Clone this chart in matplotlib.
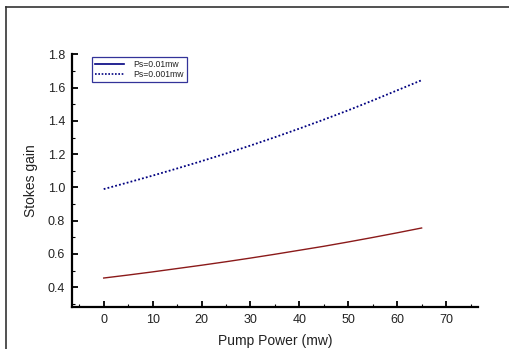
import numpy as np
import matplotlib
matplotlib.use("Agg")
import matplotlib.pyplot as plt
from matplotlib.lines import Line2D
from matplotlib.ticker import MultipleLocator

plt.rcParams['font.family'] = ['Liberation Sans', 'DejaVu Sans']

# pump power (mw)
pump_power = [0, 5, 10, 15, 20, 25, 30, 35, 40, 45, 50, 55, 60, 65]
# stokes gain, Ps=0.01mw (lower curve) and Ps=0.001mw (upper curve)
gain_ps_001 = [0.455, 0.473, 0.492, 0.512, 0.532, 0.553, 0.575,
               0.598, 0.622, 0.646, 0.672, 0.699, 0.727, 0.756]
gain_ps_0001 = [0.99, 1.030, 1.071, 1.114, 1.158, 1.204, 1.252,
                1.302, 1.354, 1.408, 1.464, 1.523, 1.584, 1.645]

x_ticks = [0, 10, 20, 30, 40, 50, 60, 70]
y_ticks = [0.4, 0.6, 0.8, 1.0, 1.2, 1.4, 1.6, 1.8]

fig = plt.figure(figsize=(5.10, 3.49), dpi=100)
ax = fig.add_axes([0.141, 0.120, 0.796, 0.724])

# lower curve drawn dark red, upper curve dotted navy
ax.plot(pump_power, gain_ps_001, color='#8b1a1a', linewidth=1.0)
ax.plot(pump_power, gain_ps_0001, color='#000080', linewidth=1.3, linestyle=(0, (1, 1.2)))

ax.set_xlim(-6.5, 76.5)
ax.set_ylim(0.28, 1.8)
ax.set_xticks(x_ticks)
ax.set_yticks(y_ticks)
ax.set_yticklabels([f"{v:.1f}" for v in y_ticks])
ax.xaxis.set_minor_locator(MultipleLocator(5))
ax.yaxis.set_minor_locator(MultipleLocator(0.1))
ax.tick_params(which='major', direction='in', length=4, width=1.3, labelsize=9,
               labelcolor='#222222', pad=5)
ax.tick_params(which='minor', direction='in', length=2.5, width=0.8)

for side in ['top', 'right']:
    ax.spines[side].set_visible(False)
for side in ['left', 'bottom']:
    ax.spines[side].set_linewidth(1.6)

ax.set_xlabel('Pump Power (mw)', fontsize=10, color='#222222', labelpad=6)
ax.set_ylabel('Stokes gain', fontsize=10, color='#222222', labelpad=7)

# legend with proxy lines in navy
handles = [Line2D([], [], color='#000080', linewidth=1.2),
           Line2D([], [], color='#000080', linewidth=1.2, linestyle=(0, (1, 1)))]
leg = ax.legend(handles, ['Ps=0.01mw', 'Ps=0.001mw'], loc='upper left',
                bbox_to_anchor=(0.049, 0.99), borderaxespad=0, fontsize=6.2,
                frameon=True, fancybox=False, handlelength=3.4, handletextpad=1.1,
                borderpad=0.35, labelspacing=0.15)
leg.get_frame().set_edgecolor('#000080')
leg.get_frame().set_linewidth(0.9)
for t in leg.get_texts():
    t.set_color('#222222')

# page border lines, top and left only
fig.add_artist(Line2D([0.012, 1.0], [0.980, 0.980], transform=fig.transFigure,
                      color='#333333', linewidth=1.2))
fig.add_artist(Line2D([0.012, 0.012], [0.0, 0.980], transform=fig.transFigure,
                      color='#333333', linewidth=1.2))

fig.savefig('out.png', dpi=100)
